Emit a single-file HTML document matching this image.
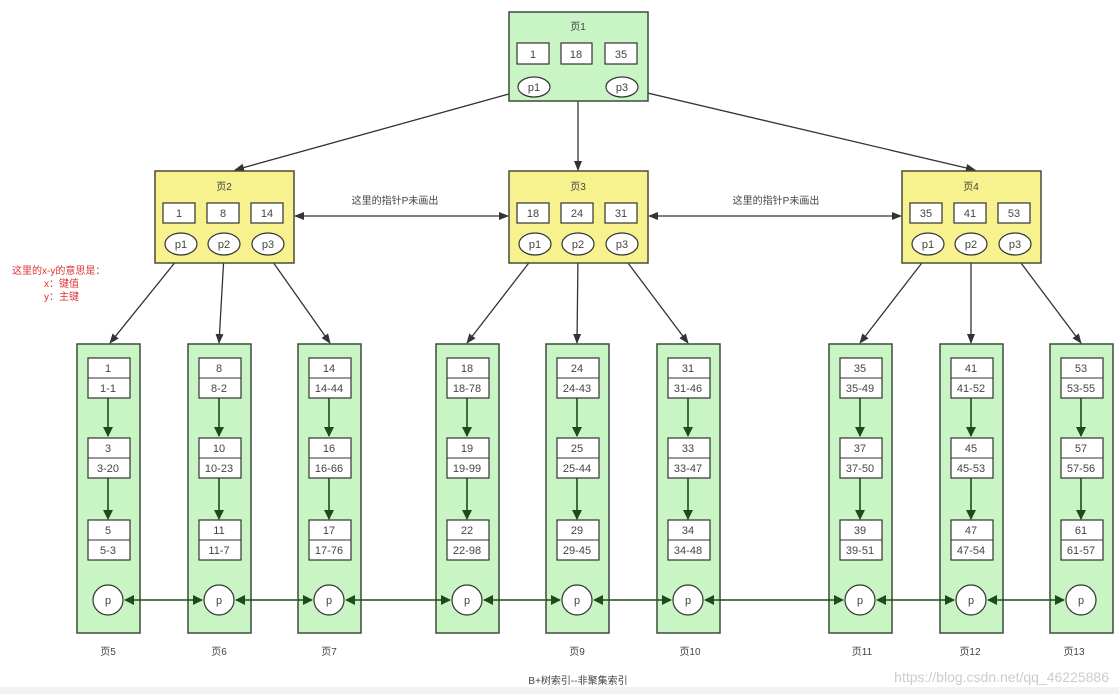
<!DOCTYPE html>
<html><head><meta charset="utf-8"><style>
body{margin:0;background:#fff}
svg{display:block}
text{font-family:"Liberation Sans","Noto Sans CJK SC",sans-serif;font-size:11px;fill:#444;text-anchor:middle}
.pg{fill:#c9f5c5;stroke:#3d4a3d;stroke-width:1.5}
.yl{fill:#f7f28d;stroke:#4a4a3a;stroke-width:1.5}
.bx{fill:#fff;stroke:#333;stroke-width:1.2}
.ar{stroke:#333;stroke-width:1.3;fill:none}
.ga{stroke:#1e4a1e;stroke-width:1.6;fill:none}
</style></head><body>
<svg width="1119" height="694" viewBox="0 0 1119 694" xmlns="http://www.w3.org/2000/svg">
<defs>
<marker id="a" markerWidth="10" markerHeight="8" refX="9" refY="4" orient="auto" markerUnits="userSpaceOnUse"><path d="M0,0L10,4L0,8z" fill="#333"/></marker>
<marker id="b" markerWidth="10" markerHeight="8" refX="1" refY="4" orient="auto" markerUnits="userSpaceOnUse"><path d="M10,0L0,4L10,8z" fill="#333"/></marker>
<marker id="g" markerWidth="10" markerHeight="10" refX="9" refY="5" orient="auto" markerUnits="userSpaceOnUse"><path d="M0,0L10,5L0,10z" fill="#1e4a1e"/></marker>
<marker id="gb" markerWidth="10" markerHeight="10" refX="1" refY="5" orient="auto" markerUnits="userSpaceOnUse"><path d="M10,0L0,5L10,10z" fill="#1e4a1e"/></marker>
</defs>
<rect x="0" y="687" width="1119" height="7" fill="#f2f2f2"/>
<path class="ar" d="M534,87L235,170" marker-end="url(#a)"/>
<path class="ar" d="M578,101L578,170" marker-end="url(#a)"/>
<path class="ar" d="M622,87L975,170" marker-end="url(#a)"/>
<path class="ar" d="M181,255L110,343" marker-end="url(#a)"/>
<path class="ar" d="M224,255L219,343" marker-end="url(#a)"/>
<path class="ar" d="M268,255L330,343" marker-end="url(#a)"/>
<path class="ar" d="M535,255L467,343" marker-end="url(#a)"/>
<path class="ar" d="M578,255L577,343" marker-end="url(#a)"/>
<path class="ar" d="M622,255L688,343" marker-end="url(#a)"/>
<path class="ar" d="M928,255L860,343" marker-end="url(#a)"/>
<path class="ar" d="M971,255L971,343" marker-end="url(#a)"/>
<path class="ar" d="M1015,255L1081,343" marker-end="url(#a)"/>
<path class="ar" d="M295,216L508,216" marker-start="url(#b)" marker-end="url(#a)"/>
<path class="ar" d="M649,216L901,216" marker-start="url(#b)" marker-end="url(#a)"/>
<text x="395" y="204" style="font-size:10px">这里的指针P未画出</text>
<text x="776" y="204" style="font-size:10px">这里的指针P未画出</text>
<rect class="pg" x="509" y="12" width="139" height="89"/>
<text x="578" y="30" style="font-size:10px">页1</text>
<rect class="bx" x="517" y="43" width="32" height="21"/><text x="533" y="58">1</text>
<rect class="bx" x="561" y="43" width="31" height="21"/><text x="576" y="58">18</text>
<rect class="bx" x="605" y="43" width="32" height="21"/><text x="621" y="58">35</text>
<ellipse class="bx" cx="534" cy="87" rx="16" ry="10"/><text x="534" y="91">p1</text>
<ellipse class="bx" cx="622" cy="87" rx="16" ry="10"/><text x="622" y="91">p3</text>
<rect class="yl" x="155" y="171" width="139" height="92"/>
<text x="224" y="190" style="font-size:10px">页2</text>
<rect class="bx" x="163" y="203" width="32" height="20"/><text x="179" y="217">1</text>
<rect class="bx" x="207" y="203" width="32" height="20"/><text x="223" y="217">8</text>
<rect class="bx" x="251" y="203" width="32" height="20"/><text x="267" y="217">14</text>
<ellipse class="bx" cx="181" cy="244" rx="16" ry="11"/><text x="181" y="248">p1</text>
<ellipse class="bx" cx="224" cy="244" rx="16" ry="11"/><text x="224" y="248">p2</text>
<ellipse class="bx" cx="268" cy="244" rx="16" ry="11"/><text x="268" y="248">p3</text>
<rect class="yl" x="509" y="171" width="139" height="92"/>
<text x="578" y="190" style="font-size:10px">页3</text>
<rect class="bx" x="517" y="203" width="32" height="20"/><text x="533" y="217">18</text>
<rect class="bx" x="561" y="203" width="32" height="20"/><text x="577" y="217">24</text>
<rect class="bx" x="605" y="203" width="32" height="20"/><text x="621" y="217">31</text>
<ellipse class="bx" cx="535" cy="244" rx="16" ry="11"/><text x="535" y="248">p1</text>
<ellipse class="bx" cx="578" cy="244" rx="16" ry="11"/><text x="578" y="248">p2</text>
<ellipse class="bx" cx="622" cy="244" rx="16" ry="11"/><text x="622" y="248">p3</text>
<rect class="yl" x="902" y="171" width="139" height="92"/>
<text x="971" y="190" style="font-size:10px">页4</text>
<rect class="bx" x="910" y="203" width="32" height="20"/><text x="926" y="217">35</text>
<rect class="bx" x="954" y="203" width="32" height="20"/><text x="970" y="217">41</text>
<rect class="bx" x="998" y="203" width="32" height="20"/><text x="1014" y="217">53</text>
<ellipse class="bx" cx="928" cy="244" rx="16" ry="11"/><text x="928" y="248">p1</text>
<ellipse class="bx" cx="971" cy="244" rx="16" ry="11"/><text x="971" y="248">p2</text>
<ellipse class="bx" cx="1015" cy="244" rx="16" ry="11"/><text x="1015" y="248">p3</text>
<text x="12" y="274" style="fill:#d33;font-size:10px;text-anchor:start">这里的x-y的意思是：</text>
<text x="44" y="287" style="fill:#d33;font-size:10px;text-anchor:start">x：键值</text>
<text x="44" y="300" style="fill:#d33;font-size:10px;text-anchor:start">y：主键</text>
<g transform="translate(77,0)">
<rect class="pg" x="0" y="344" width="63" height="289"/>
<path class="ga" d="M31,398L31,436" marker-end="url(#g)"/><path class="ga" d="M31,478L31,519" marker-end="url(#g)"/>
<rect class="bx" x="11" y="358" width="42" height="40"/><line x1="11" y1="378" x2="53" y2="378" stroke="#333"/>
<rect class="bx" x="11" y="438" width="42" height="40"/><line x1="11" y1="458" x2="53" y2="458" stroke="#333"/>
<rect class="bx" x="11" y="520" width="42" height="40"/><line x1="11" y1="540" x2="53" y2="540" stroke="#333"/>
<circle class="bx" cx="31" cy="600" r="15"/><text x="31" y="604">p</text>
<text x="31" y="372">1</text><text x="31" y="392">1-1</text>
<text x="31" y="452">3</text><text x="31" y="472">3-20</text>
<text x="31" y="534">5</text><text x="31" y="554">5-3</text>
<text x="31" y="655" style="font-size:10px">页5</text>
</g>
<g transform="translate(188,0)">
<rect class="pg" x="0" y="344" width="63" height="289"/>
<path class="ga" d="M31,398L31,436" marker-end="url(#g)"/><path class="ga" d="M31,478L31,519" marker-end="url(#g)"/>
<rect class="bx" x="11" y="358" width="42" height="40"/><line x1="11" y1="378" x2="53" y2="378" stroke="#333"/>
<rect class="bx" x="11" y="438" width="42" height="40"/><line x1="11" y1="458" x2="53" y2="458" stroke="#333"/>
<rect class="bx" x="11" y="520" width="42" height="40"/><line x1="11" y1="540" x2="53" y2="540" stroke="#333"/>
<circle class="bx" cx="31" cy="600" r="15"/><text x="31" y="604">p</text>
<text x="31" y="372">8</text><text x="31" y="392">8-2</text>
<text x="31" y="452">10</text><text x="31" y="472">10-23</text>
<text x="31" y="534">11</text><text x="31" y="554">11-7</text>
<text x="31" y="655" style="font-size:10px">页6</text>
</g>
<g transform="translate(298,0)">
<rect class="pg" x="0" y="344" width="63" height="289"/>
<path class="ga" d="M31,398L31,436" marker-end="url(#g)"/><path class="ga" d="M31,478L31,519" marker-end="url(#g)"/>
<rect class="bx" x="11" y="358" width="42" height="40"/><line x1="11" y1="378" x2="53" y2="378" stroke="#333"/>
<rect class="bx" x="11" y="438" width="42" height="40"/><line x1="11" y1="458" x2="53" y2="458" stroke="#333"/>
<rect class="bx" x="11" y="520" width="42" height="40"/><line x1="11" y1="540" x2="53" y2="540" stroke="#333"/>
<circle class="bx" cx="31" cy="600" r="15"/><text x="31" y="604">p</text>
<text x="31" y="372">14</text><text x="31" y="392">14-44</text>
<text x="31" y="452">16</text><text x="31" y="472">16-66</text>
<text x="31" y="534">17</text><text x="31" y="554">17-76</text>
<text x="31" y="655" style="font-size:10px">页7</text>
</g>
<g transform="translate(436,0)">
<rect class="pg" x="0" y="344" width="63" height="289"/>
<path class="ga" d="M31,398L31,436" marker-end="url(#g)"/><path class="ga" d="M31,478L31,519" marker-end="url(#g)"/>
<rect class="bx" x="11" y="358" width="42" height="40"/><line x1="11" y1="378" x2="53" y2="378" stroke="#333"/>
<rect class="bx" x="11" y="438" width="42" height="40"/><line x1="11" y1="458" x2="53" y2="458" stroke="#333"/>
<rect class="bx" x="11" y="520" width="42" height="40"/><line x1="11" y1="540" x2="53" y2="540" stroke="#333"/>
<circle class="bx" cx="31" cy="600" r="15"/><text x="31" y="604">p</text>
<text x="31" y="372">18</text><text x="31" y="392">18-78</text>
<text x="31" y="452">19</text><text x="31" y="472">19-99</text>
<text x="31" y="534">22</text><text x="31" y="554">22-98</text>
</g>
<g transform="translate(546,0)">
<rect class="pg" x="0" y="344" width="63" height="289"/>
<path class="ga" d="M31,398L31,436" marker-end="url(#g)"/><path class="ga" d="M31,478L31,519" marker-end="url(#g)"/>
<rect class="bx" x="11" y="358" width="42" height="40"/><line x1="11" y1="378" x2="53" y2="378" stroke="#333"/>
<rect class="bx" x="11" y="438" width="42" height="40"/><line x1="11" y1="458" x2="53" y2="458" stroke="#333"/>
<rect class="bx" x="11" y="520" width="42" height="40"/><line x1="11" y1="540" x2="53" y2="540" stroke="#333"/>
<circle class="bx" cx="31" cy="600" r="15"/><text x="31" y="604">p</text>
<text x="31" y="372">24</text><text x="31" y="392">24-43</text>
<text x="31" y="452">25</text><text x="31" y="472">25-44</text>
<text x="31" y="534">29</text><text x="31" y="554">29-45</text>
<text x="31" y="655" style="font-size:10px">页9</text>
</g>
<g transform="translate(657,0)">
<rect class="pg" x="0" y="344" width="63" height="289"/>
<path class="ga" d="M31,398L31,436" marker-end="url(#g)"/><path class="ga" d="M31,478L31,519" marker-end="url(#g)"/>
<rect class="bx" x="11" y="358" width="42" height="40"/><line x1="11" y1="378" x2="53" y2="378" stroke="#333"/>
<rect class="bx" x="11" y="438" width="42" height="40"/><line x1="11" y1="458" x2="53" y2="458" stroke="#333"/>
<rect class="bx" x="11" y="520" width="42" height="40"/><line x1="11" y1="540" x2="53" y2="540" stroke="#333"/>
<circle class="bx" cx="31" cy="600" r="15"/><text x="31" y="604">p</text>
<text x="31" y="372">31</text><text x="31" y="392">31-46</text>
<text x="31" y="452">33</text><text x="31" y="472">33-47</text>
<text x="31" y="534">34</text><text x="31" y="554">34-48</text>
<text x="33" y="655" style="font-size:10px">页10</text>
</g>
<g transform="translate(829,0)">
<rect class="pg" x="0" y="344" width="63" height="289"/>
<path class="ga" d="M31,398L31,436" marker-end="url(#g)"/><path class="ga" d="M31,478L31,519" marker-end="url(#g)"/>
<rect class="bx" x="11" y="358" width="42" height="40"/><line x1="11" y1="378" x2="53" y2="378" stroke="#333"/>
<rect class="bx" x="11" y="438" width="42" height="40"/><line x1="11" y1="458" x2="53" y2="458" stroke="#333"/>
<rect class="bx" x="11" y="520" width="42" height="40"/><line x1="11" y1="540" x2="53" y2="540" stroke="#333"/>
<circle class="bx" cx="31" cy="600" r="15"/><text x="31" y="604">p</text>
<text x="31" y="372">35</text><text x="31" y="392">35-49</text>
<text x="31" y="452">37</text><text x="31" y="472">37-50</text>
<text x="31" y="534">39</text><text x="31" y="554">39-51</text>
<text x="33" y="655" style="font-size:10px">页11</text>
</g>
<g transform="translate(940,0)">
<rect class="pg" x="0" y="344" width="63" height="289"/>
<path class="ga" d="M31,398L31,436" marker-end="url(#g)"/><path class="ga" d="M31,478L31,519" marker-end="url(#g)"/>
<rect class="bx" x="11" y="358" width="42" height="40"/><line x1="11" y1="378" x2="53" y2="378" stroke="#333"/>
<rect class="bx" x="11" y="438" width="42" height="40"/><line x1="11" y1="458" x2="53" y2="458" stroke="#333"/>
<rect class="bx" x="11" y="520" width="42" height="40"/><line x1="11" y1="540" x2="53" y2="540" stroke="#333"/>
<circle class="bx" cx="31" cy="600" r="15"/><text x="31" y="604">p</text>
<text x="31" y="372">41</text><text x="31" y="392">41-52</text>
<text x="31" y="452">45</text><text x="31" y="472">45-53</text>
<text x="31" y="534">47</text><text x="31" y="554">47-54</text>
<text x="30" y="655" style="font-size:10px">页12</text>
</g>
<g transform="translate(1050,0)">
<rect class="pg" x="0" y="344" width="63" height="289"/>
<path class="ga" d="M31,398L31,436" marker-end="url(#g)"/><path class="ga" d="M31,478L31,519" marker-end="url(#g)"/>
<rect class="bx" x="11" y="358" width="42" height="40"/><line x1="11" y1="378" x2="53" y2="378" stroke="#333"/>
<rect class="bx" x="11" y="438" width="42" height="40"/><line x1="11" y1="458" x2="53" y2="458" stroke="#333"/>
<rect class="bx" x="11" y="520" width="42" height="40"/><line x1="11" y1="540" x2="53" y2="540" stroke="#333"/>
<circle class="bx" cx="31" cy="600" r="15"/><text x="31" y="604">p</text>
<text x="31" y="372">53</text><text x="31" y="392">53-55</text>
<text x="31" y="452">57</text><text x="31" y="472">57-56</text>
<text x="31" y="534">61</text><text x="31" y="554">61-57</text>
<text x="24" y="655" style="font-size:10px">页13</text>
</g>
<g class="ga">
<path d="M125,600L202,600" marker-start="url(#gb)" marker-end="url(#g)"/>
<path d="M236,600L312,600" marker-start="url(#gb)" marker-end="url(#g)"/>
<path d="M346,600L450,600" marker-start="url(#gb)" marker-end="url(#g)"/>
<path d="M484,600L560,600" marker-start="url(#gb)" marker-end="url(#g)"/>
<path d="M594,600L671,600" marker-start="url(#gb)" marker-end="url(#g)"/>
<path d="M705,600L843,600" marker-start="url(#gb)" marker-end="url(#g)"/>
<path d="M877,600L954,600" marker-start="url(#gb)" marker-end="url(#g)"/>
<path d="M988,600L1064,600" marker-start="url(#gb)" marker-end="url(#g)"/>
</g>
<text x="578" y="684" style="font-size:10px">B+树索引--非聚集索引</text>
<text x="1109" y="682" style="font-size:14px;fill:#ccc;text-anchor:end">https://blog.csdn.net/qq_46225886</text>
</svg>
</body></html>
